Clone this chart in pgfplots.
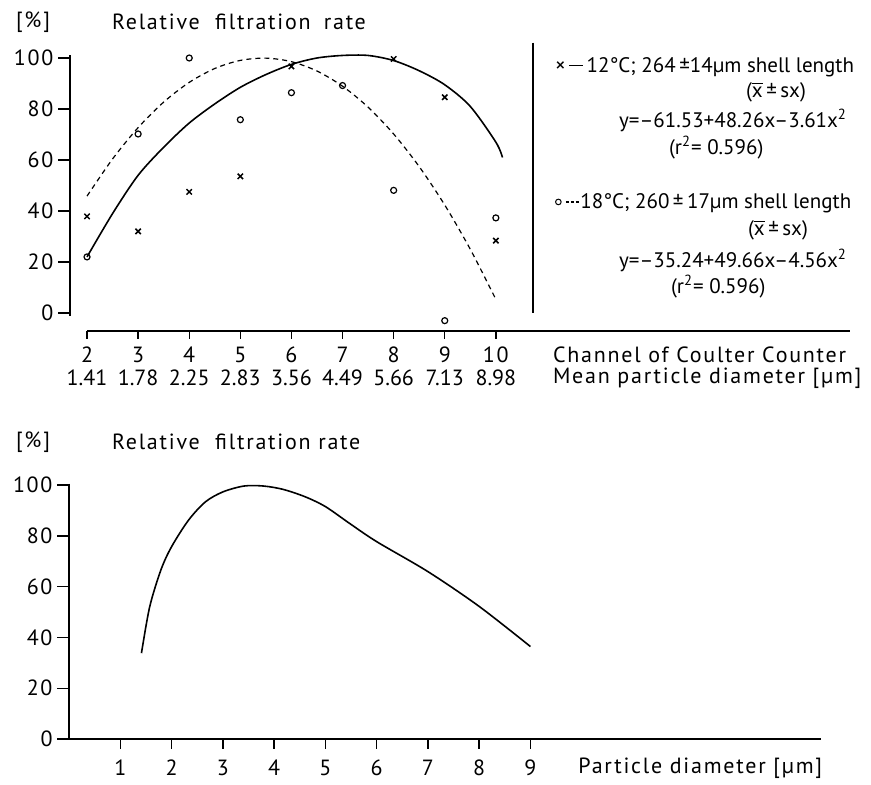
\documentclass[border=0pt]{standalone}
\usepackage{fontspec}
\setmainfont[LetterSpace=8]{PT Sans}
\newfontfamily\lgfont{PT Sans}
\usepackage{pgfplots}
\pgfplotsset{compat=1.18}
\newcommand\xb{\ensuremath{\overline{\mbox{x}}}}
\newcommand\sq{\textsuperscript{2}}
\begin{document}
\begin{tikzpicture}[font=\fontsize{11}{13}\selectfont]
\useasboundingbox (0,0) rectangle (435.5pt,392pt);
% ---------------- top panel ----------------
\begin{axis}[at={(35pt,222.75pt)}, anchor=south west, scale only axis,
  width=390pt, height=153pt, xmin=1.667, xmax=16.93, ymin=-10, ymax=110,
  hide axis, clip=false]
\draw[line width=0.8pt] (axis cs:1.667,101) -- (axis cs:1.667,-1);
\pgfplotsinvokeforeach{0,20,40,60,80,100}{
  \draw[line width=0.7pt] (axis cs:1.667,#1) -- ++(-6pt,0pt) node[left, inner sep=2pt] {#1};}
\draw[line width=0.8pt] (axis cs:2,-7) -- (axis cs:16.93,-7);
\pgfplotsinvokeforeach{2,3,4,5,6,7,8,9,10}{
  \draw[line width=0.7pt] (axis cs:#1,-7) -- ++(0pt,-4pt);
  \node at (axis cs:#1,-16.5) {#1};}
\begin{scope}[font=\fontsize{11}{13}\addfontfeatures{LetterSpace=0}]
\node at (axis cs:2,-25.5) {1.41};
\node at (axis cs:3,-25.5) {1.78};
\node at (axis cs:4,-25.5) {2.25};
\node at (axis cs:5,-25.5) {2.83};
\node at (axis cs:6,-25.5) {3.56};
\node at (axis cs:7,-25.5) {4.49};
\node at (axis cs:8,-25.5) {5.66};
\node at (axis cs:9,-25.5) {7.13};
\node at (axis cs:10,-25.5) {8.98};
\end{scope}
\node[anchor=west] at (axis cs:10.98,-16.5) {Channel of Coulter Counter};
\node[anchor=west] at (axis cs:10.98,-25.5) {Mean particle diameter [µm]};
\draw[line width=0.8pt] (axis cs:10.73,106) -- (axis cs:10.73,0);
% solid fit (12 C)
\addplot[smooth, line width=0.8pt] coordinates {
 (2,22) (2.5,39) (3,54) (3.5,65) (4,74.5) (4.5,82) (5,88.5) (5.5,93.5)
 (6,97.5) (6.5,100) (7,101) (7.5,101) (8,99) (8.5,95) (9,89.5) (9.5,81)
 (10,67) (10.13,61)};
% dashed fit (18 C)
\addplot[smooth, line width=0.6pt, dash pattern=on 2.5pt off 2pt] coordinates {
 (2,45.84) (2.5,60.41) (3,72.70) (3.5,82.71) (4,90.44) (4.5,95.89) (5,99.06)
 (5.5,99.95) (6,98.56) (6.5,94.89) (7,88.94) (7.5,80.71) (8,70.20)
 (8.5,57.41) (9,42.34) (9.5,24.99) (10,5.36)};
\addplot[only marks, mark=x, mark size=1.9pt, line width=0.75pt] coordinates {
 (2,37.9) (3,32) (4,47.5) (5,53.6) (6,96.7) (8,99.6) (9,84.6) (10,28.4)};
\addplot[only marks, mark=o, mark size=1.5pt, line width=0.6pt] coordinates {
 (2,22) (3,70.2) (4,100) (5,75.8) (6,86.4) (7,89.2) (8,48.1) (9,-3) (10,37.3)};
\end{axis}
% ---------------- bottom panel ----------------
\begin{axis}[at={(34.6pt,22.5pt)}, anchor=south west, scale only axis,
  width=375.9pt, height=139.7pt, xmin=0, xmax=14.67, ymin=0, ymax=110,
  hide axis, clip=false]
\draw[line width=0.8pt] (axis cs:0,100.5) -- (axis cs:0,0) -- (axis cs:14.67,0);
\pgfplotsinvokeforeach{0,20,40,60,80,100}{
  \draw[line width=0.7pt] (axis cs:0,#1) -- ++(-6pt,0pt) node[left, inner sep=2pt] {#1};}
\pgfplotsinvokeforeach{1,2,3,4,5,6,7,8,9}{
  \draw[line width=0.7pt] (axis cs:#1,0) -- ++(0pt,-5pt);
  \node at (axis cs:#1,-11.4) {#1};}
\node[anchor=west] at (axis cs:9.8,-11.4) {Particle diameter [µm]};
\addplot[smooth, line width=0.8pt] coordinates {
 (1.41,33.8) (1.57,52) (1.79,66.6) (2,75.8) (2.33,86.2) (2.66,93.4) (3,97.3)
 (3.41,99.6) (3.79,99.6) (4.17,98.3) (4.6,95.4) (5,91.5) (5.47,84.9)
 (6,77.7) (7,65.9) (8,52.2) (9,36.4)};
\end{axis}
% ---------------- titles ----------------
\node at (16.5pt,381pt) {[\%]};
\node[anchor=west] at (52.5pt,381pt) {Relative\hspace{0.7em}filtration\hspace{0.6em}rate};
\node at (16.5pt,171pt) {[\%]};
\node[anchor=west] at (52.5pt,171pt) {Relative\hspace{0.7em}filtration\ rate};
% ---------------- legend text ----------------
\begin{scope}[font=\fontsize{10.5}{12}\lgfont]
\node[anchor=west] at (274pt,358.5pt) {×\,\rule[0.6ex]{7pt}{0.7pt}\,12°C; 264\,±14µm shell length};
\node at (388pt,346pt) {(\xb\,±\,sx)};
\node[anchor=east] at (427pt,332pt) {y=–61.53+48.26x–3.61x\sq};
\node[anchor=west] at (331pt,318pt) {(r\sq= 0.596)};
\node[anchor=west] at (274pt,290.5pt) {\tikz[baseline]\draw[line width=0.5pt] (0,0.6ex) circle (1.4pt);\,\tikz[baseline]\draw[line width=0.6pt, dash pattern=on 1.5pt off 1pt] (0,0.6ex) -- (7pt,0.6ex);18°C; 260\,±\,17µm shell length};
\node at (389pt,277pt) {(\xb\,±\,sx)};
\node[anchor=east] at (427pt,262pt) {y=–35.24+49.66x–4.56x\sq};
\node[anchor=west] at (332pt,248.5pt) {(r\sq= 0.596)};
\end{scope}
\end{tikzpicture}
\end{document}
